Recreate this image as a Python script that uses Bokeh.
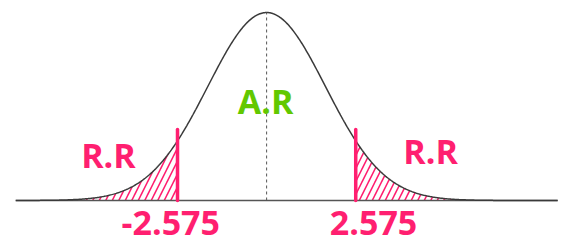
import numpy as np
from bokeh.plotting import figure
from bokeh.core.properties import value
from bokeh.embed import file_html
from bokeh.resources import INLINE

# ---- data ----
critical_values = [-2.575, 2.575]
critical_labels = ["-2.575", "2.575"]
critical_label_x = [-2.77, 3.09]
region_labels = ["R.R", "A.R", "R.R"]
region_label_x = [-4.57, -0.03, 4.74]
region_label_y = [0.057, 0.124, 0.062]
region_colors = ["#ff1f70", "#62c800", "#ff1f70"]
curve_sd = 1.7          # spread of the drawn bell curve
x_start, x_end = -7.25, 8.41

PINK = "#ff1f70"

def pdf(x):
    return np.exp(-0.5 * (x / curve_sd) ** 2) / (curve_sd * np.sqrt(2 * np.pi))

p = figure(width=562, height=247, output_backend="svg", toolbar_location=None,
           x_range=(-7.69, 8.55), y_range=(-0.0587, 0.2497),
           min_border=0, outline_line_color=None)
p.axis.visible = False
p.grid.visible = False
p.background_fill_color = "white"
p.border_fill_color = "white"

xs = np.linspace(x_start, x_end, 600)
ys = pdf(xs)

# hatched rejection regions
lo, hi = critical_values
xl = np.linspace(lo - 3.5, lo, 120)
p.patch(np.concatenate([xl, xl[::-1]]), np.concatenate([pdf(xl), np.zeros_like(xl)]),
        fill_alpha=0, line_alpha=0, hatch_pattern="/", hatch_color=PINK,
        hatch_weight=1.6, hatch_scale=13)
xr = np.linspace(hi, hi + 3.3, 120)
p.patch(np.concatenate([xr, xr[::-1]]), np.concatenate([pdf(xr), np.zeros_like(xr)]),
        fill_alpha=0, line_alpha=0, hatch_pattern="/", hatch_color=PINK,
        hatch_weight=1.6, hatch_scale=13)

# baseline
p.line([x_start, x_end], [0, 0], line_color="#555555", line_width=1.3)
# curve
p.line(xs, ys, line_color="#3a3a3a", line_width=1.5)
# center dashed line
p.segment(x0=[0], y0=[0], x1=[0], y1=[pdf(0.0)], line_color="#555555",
          line_width=1, line_dash="3 3")

# critical lines
cv = np.array(critical_values)
p.segment(x0=cv, y0=np.zeros_like(cv), x1=cv, y1=pdf(cv) + 0.014,
          line_color=PINK, line_width=3.5, line_cap="round")

# region labels
p.text(x=region_label_x, y=region_label_y, text=region_labels,
       text_color=region_colors, text_font=value("Open Sans"), text_font_style="bold",
       text_font_size="34px", text_align="center", text_baseline="middle")

# critical value labels
p.text(x=critical_label_x, y=[-0.0275, -0.0275], text=critical_labels,
       text_color=PINK, text_font=value("Open Sans"), text_font_style="bold",
       text_font_size="34px", text_align="center", text_baseline="middle")

open("out.html", "w").write(file_html(p, INLINE))
